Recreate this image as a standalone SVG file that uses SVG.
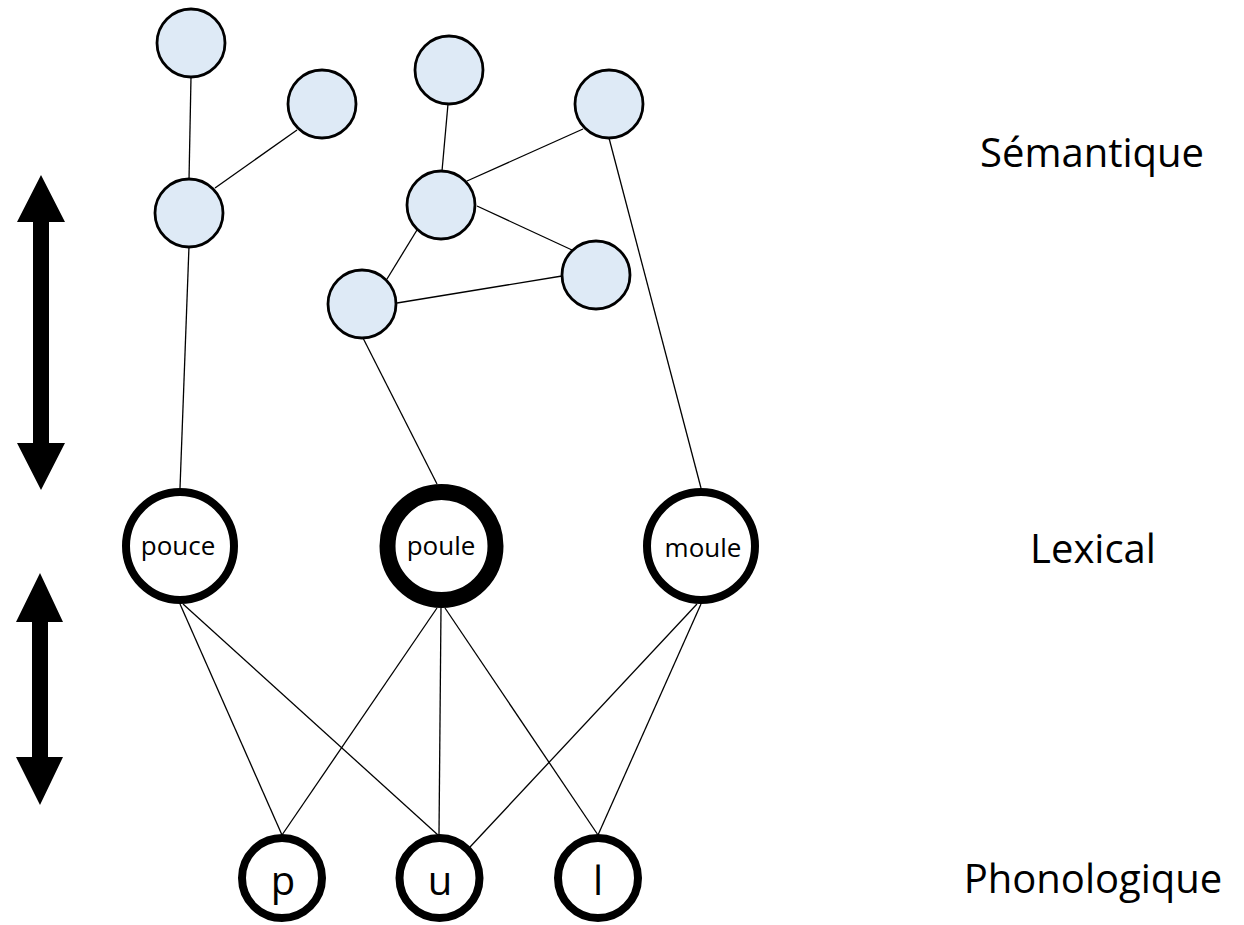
<svg xmlns="http://www.w3.org/2000/svg" width="1244" height="925" viewBox="0 0 1244 925">
<style>
.sem{fill:#deeaf6;stroke:#000;stroke-width:2.8}
.lex{fill:#fff;stroke:#000;stroke-width:8}
.lexb{fill:#fff;stroke:#000;stroke-width:16}
.ph{fill:#fff;stroke:#000;stroke-width:8}
.e{stroke:#000;stroke-width:1.3;fill:none}
.t{font-family:"Open Sans","Liberation Sans",sans-serif;fill:#000;text-anchor:middle}
</style>
<rect width="1244" height="925" fill="#fff"/>
<g id="connectors">
<line class="e" x1="191" y1="77" x2="189" y2="180"/>
<line class="e" x1="297" y1="130" x2="215" y2="188"/>
<line class="e" x1="448" y1="104" x2="442" y2="171"/>
<line class="e" x1="467" y1="181" x2="583" y2="129"/>
<line class="e" x1="477" y1="206" x2="572" y2="250"/>
<line class="e" x1="417" y1="230" x2="387" y2="279"/>
<line class="e" x1="397" y1="303" x2="562" y2="276"/>
<line class="e" x1="609" y1="138" x2="701" y2="488"/>
<line class="e" x1="363" y1="338" x2="437" y2="484"/>
<line class="e" x1="189" y1="246" x2="180" y2="488"/>
<line class="e" x1="180" y1="604" x2="282" y2="835"/>
<line class="e" x1="183" y1="604" x2="438" y2="835"/>
<line class="e" x1="437" y1="608" x2="282" y2="835"/>
<line class="e" x1="441" y1="608" x2="439" y2="835"/>
<line class="e" x1="445" y1="608" x2="598" y2="835"/>
<line class="e" x1="697" y1="604" x2="470" y2="847"/>
<line class="e" x1="701" y1="604" x2="598" y2="835"/>
</g>
<g id="arrow-sem-lex">
<polygon points="41,175 65,222 49,222 49,443 65,443 41,490 17,443 33,443 33,222 17,222" fill="#000"/>
</g>
<g id="arrow-lex-phon">
<polygon points="40,573 63,622 48,622 48,757 63,757 40,805 16,757 32,757 32,622 16,622" fill="#000"/>
</g>
<g id="sem1"><circle class="sem" cx="191" cy="43" r="34"/></g>
<g id="sem2"><circle class="sem" cx="322" cy="104" r="34"/></g>
<g id="sem3"><circle class="sem" cx="189" cy="213" r="34"/></g>
<g id="sem4"><circle class="sem" cx="449" cy="70" r="34"/></g>
<g id="sem5"><circle class="sem" cx="609" cy="104" r="34"/></g>
<g id="sem6"><circle class="sem" cx="441" cy="205" r="34"/></g>
<g id="sem7"><circle class="sem" cx="596" cy="275" r="34"/></g>
<g id="sem8"><circle class="sem" cx="362" cy="304" r="34"/></g>
<g id="pouce"><circle class="lex" cx="180" cy="546" r="54"/><text class="t" x="178" y="555" font-size="26">pouce</text></g>
<g id="poule"><circle class="lexb" cx="441.5" cy="546" r="54"/><text class="t" x="441" y="555" font-size="26">poule</text></g>
<g id="moule"><circle class="lex" cx="701" cy="546" r="54"/><text class="t" x="703" y="557" font-size="26">moule</text></g>
<g id="p"><circle class="ph" cx="282" cy="878" r="40"/><text class="t" x="283" y="895" font-size="40">p</text></g>
<g id="u"><circle class="ph" cx="439.5" cy="878" r="40"/><text class="t" x="440" y="895" font-size="40">u</text></g>
<g id="l"><circle class="ph" cx="598" cy="878" r="40"/><text class="t" x="598" y="895" font-size="40">l</text></g>
<g id="labels">
<text class="t" x="1092" y="167" font-size="40">Sémantique</text>
<text class="t" x="1093" y="563" font-size="40">Lexical</text>
<text class="t" x="1093" y="893" font-size="40">Phonologique</text>
</g>
</svg>
